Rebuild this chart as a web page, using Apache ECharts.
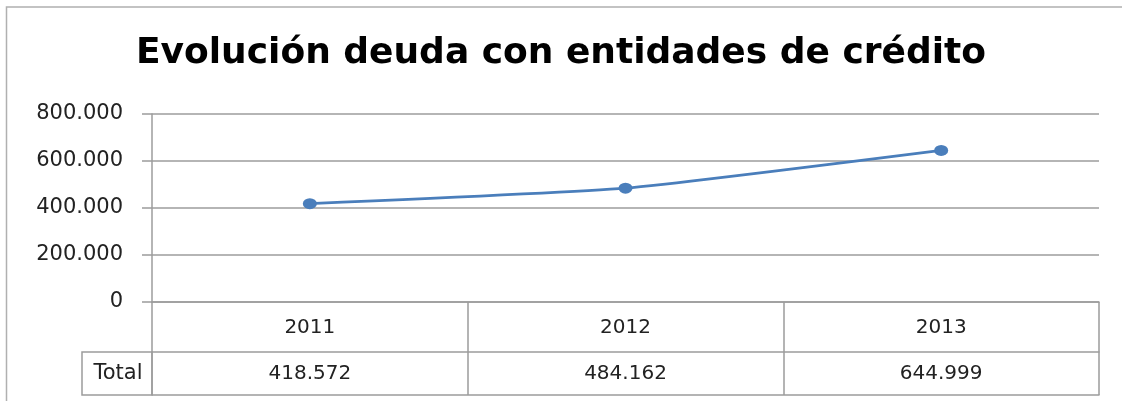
<!DOCTYPE html>
<html>
<head>
<meta charset="utf-8">
<script src="https://cdn.jsdelivr.net/npm/echarts@6/dist/echarts.min.js"></script>
<style>
  html, body { margin: 0; padding: 0; background: #fff; }
  #chart { width: 1122px; height: 401px; }
</style>
</head>
<body>
<div id="chart"></div>
<script>
// datos del gráfico
const years = ['2011', '2012', '2013'];
const deuda = [418572, 484162, 644999];
const yTicks = [0, 200000, 400000, 600000, 800000];
const rowLabel = 'Total';

// formato con punto de miles (es-ES)
function fmt(v) {
  return String(v).replace(/\B(?=(\d{3})+(?!\d))/g, '.');
}

const gris = '#9c9c9c';
const azul = '#4a7ebb';
const fuente = 'DejaVu Sans';

const chart = echarts.init(document.getElementById('chart'));

const option = {
  backgroundColor: '#fff',
  animation: false,
  title: {
    text: 'Evolución deuda con entidades de crédito',
    left: 'center',
    top: 31,
    textStyle: {
      fontFamily: fuente,
      fontWeight: 'bold',
      fontSize: 36,
      color: '#000'
    }
  },
  grid: {
    left: 152,
    right: 23,
    top: 114,
    bottom: 99
  },
  xAxis: [
    {
      type: 'category',
      data: years,
      boundaryGap: true,
      axisLine: { lineStyle: { color: gris, width: 1.5 } },
      axisTick: { show: false },
      axisLabel: { margin: 16, fontFamily: fuente, fontSize: 20, color: '#222' }
    },
    {
      // fila de valores de la tabla
      type: 'category',
      data: deuda.map(fmt),
      position: 'bottom',
      offset: 50,
      boundaryGap: true,
      axisLine: { lineStyle: { color: gris, width: 1.5 } },
      axisTick: { show: true, inside: true, length: 50, lineStyle: { color: gris, width: 1.5 } },
      axisLabel: { margin: 12, fontFamily: fuente, fontSize: 20, color: '#222' }
    },
    {
      type: 'category',
      data: years,
      position: 'bottom',
      offset: 93,
      boundaryGap: true,
      axisLine: { lineStyle: { color: gris, width: 1.5 } },
      axisTick: { show: true, inside: true, length: 43, lineStyle: { color: gris, width: 1.5 } },
      axisLabel: { show: false }
    }
  ],
  yAxis: {
    type: 'value',
    min: yTicks[0],
    max: yTicks[yTicks.length - 1],
    interval: yTicks[1] - yTicks[0],
    axisLine: { show: true, lineStyle: { color: gris, width: 1.5 } },
    axisTick: { show: true, length: 10, lineStyle: { color: gris, width: 1.5 } },
    splitLine: { lineStyle: { color: gris, width: 1.5 } },
    axisLabel: {
      margin: 29,
      fontFamily: fuente,
      fontSize: 21,
      color: '#222',
      formatter: v => fmt(v)
    }
  },
  series: [
    {
      name: rowLabel,
      type: 'line',
      data: deuda,
      smooth: 0.15,
      symbol: 'circle',
      symbolSize: [14, 11],
      lineStyle: { color: azul, width: 2.8 },
      itemStyle: { color: azul }
    }
  ],
  graphic: [
    {
      // borde del área del gráfico
      type: 'rect',
      shape: { x: 6.5, y: 7, width: 1140, height: 420 },
      style: { fill: 'none', stroke: '#b0b0b0', lineWidth: 1.5 },
      silent: true
    },
    {
      // celda "Total" de la tabla
      type: 'rect',
      shape: { x: 82, y: 352, width: 70, height: 43 },
      style: { fill: 'none', stroke: gris, lineWidth: 1.5 },
      silent: true
    },
    {
      type: 'text',
      x: 118,
      y: 373.5,
      style: {
        text: rowLabel,
        font: '21px "DejaVu Sans"',
        fill: '#222',
        textAlign: 'center',
        textVerticalAlign: 'middle'
      },
      silent: true
    }
  ]
};

chart.setOption(option);
</script>
</body>
</html>
